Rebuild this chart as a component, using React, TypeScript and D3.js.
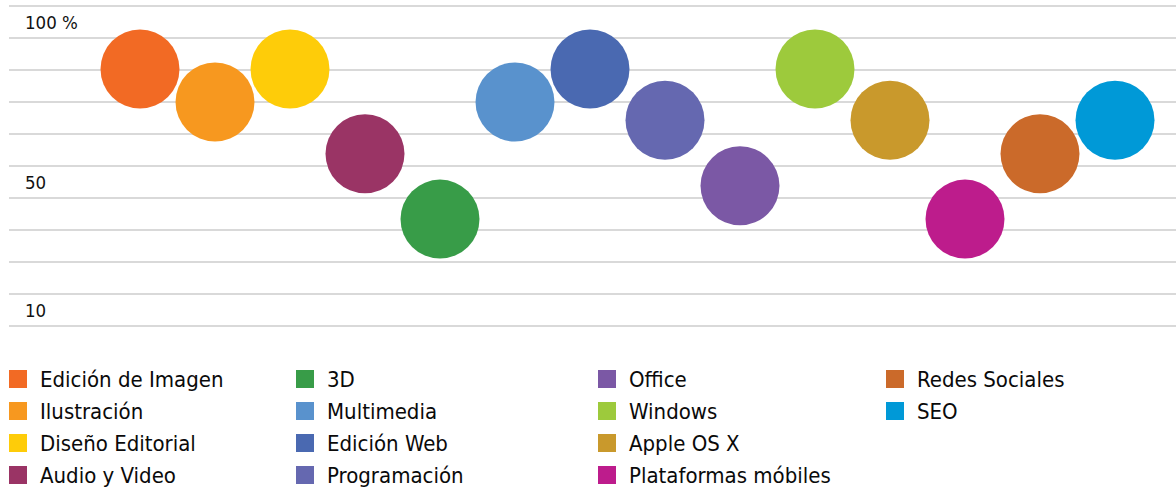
import React from 'react';
import { scaleLinear, scalePoint, range } from 'd3';

const categories = [
  'Edición de Imagen',
  'Ilustración',
  'Diseño Editorial',
  'Audio y Video',
  '3D',
  'Multimedia',
  'Edición Web',
  'Programación',
  'Office',
  'Windows',
  'Apple OS X',
  'Plataformas móbiles',
  'Redes Sociales',
  'SEO'
];

const values = [85.3, 75, 85.3, 58.8, 38.4, 75, 85.3, 69.3, 48.8, 85.3, 69.3, 38.4, 58.8, 69.3];

const colors = [
  '#f26a24',
  '#f7981f',
  '#fecc09',
  '#9a3465',
  '#389c48',
  '#5992cd',
  '#4a69b1',
  '#6568b0',
  '#7b58a5',
  '#9dca3c',
  '#c9992c',
  '#bd1c8c',
  '#cb6a2a',
  '#0099d7'
];

const tickLabels = [
  { value: 100, label: '100 %' },
  { value: 50, label: '50' },
  { value: 10, label: '10' }
];

// legend is laid out column by column, four rows each
const legendColumns = [
  ['Edición de Imagen', 'Ilustración', 'Diseño Editorial', 'Audio y Video'],
  ['3D', 'Multimedia', 'Edición Web', 'Programación'],
  ['Office', 'Windows', 'Apple OS X', 'Plataformas móbiles'],
  ['Redes Sociales', 'SEO']
];

const WIDTH = 1176;
const HEIGHT = 495;
const FONT = '"DejaVu Sans Condensed", "Open Sans", sans-serif';

const App = () => {
  const yScale = scaleLinear().domain([5, 105]).range([326, 6]);
  const xScale = scalePoint().domain(categories).range([140, 1115]);
  const gridValues = range(5, 106, 10);

  const legendX = [9, 296, 598, 886];
  const legendY = scalePoint().domain(range(4).map(String)).range([379, 475]);

  return (
    <svg
      width={WIDTH}
      height={HEIGHT}
      style={{ position: 'absolute', left: 0, top: 0, background: '#fff' }}
      fontFamily={FONT}
    >
      <g className="grid">
        {gridValues.map(v => (
          <line
            key={v}
            x1={9}
            x2={WIDTH}
            y1={yScale(v)}
            y2={yScale(v)}
            stroke="#cccccc"
            strokeWidth={1.3}
          />
        ))}
      </g>
      <g className="y-labels">
        {tickLabels.map(t => (
          <text
            key={t.label}
            x={25}
            y={yScale(t.value) + 1}
            dy="0.35em"
            fontSize={18.5}
            fill="#111"
          >
            {t.label}
          </text>
        ))}
      </g>
      <g className="bubbles">
        {categories.map((c, i) => (
          <circle
            key={c}
            cx={xScale(c)}
            cy={yScale(values[i])}
            r={39.5}
            fill={colors[i]}
          />
        ))}
      </g>
      <g className="legend">
        {legendColumns.map((col, ci) =>
          col.map((name, ri) => {
            const y = legendY(String(ri));
            const color = colors[categories.indexOf(name)];
            return (
              <g key={name} transform={`translate(${legendX[ci]}, ${y})`}>
                <rect x={0} y={-9} width={18} height={18} fill={color} />
                <text x={31} y={0} dy="0.35em" fontSize={22} fill="#0a0a0a">
                  {name}
                </text>
              </g>
            );
          })
        )}
      </g>
    </svg>
  );
};

export default App;
